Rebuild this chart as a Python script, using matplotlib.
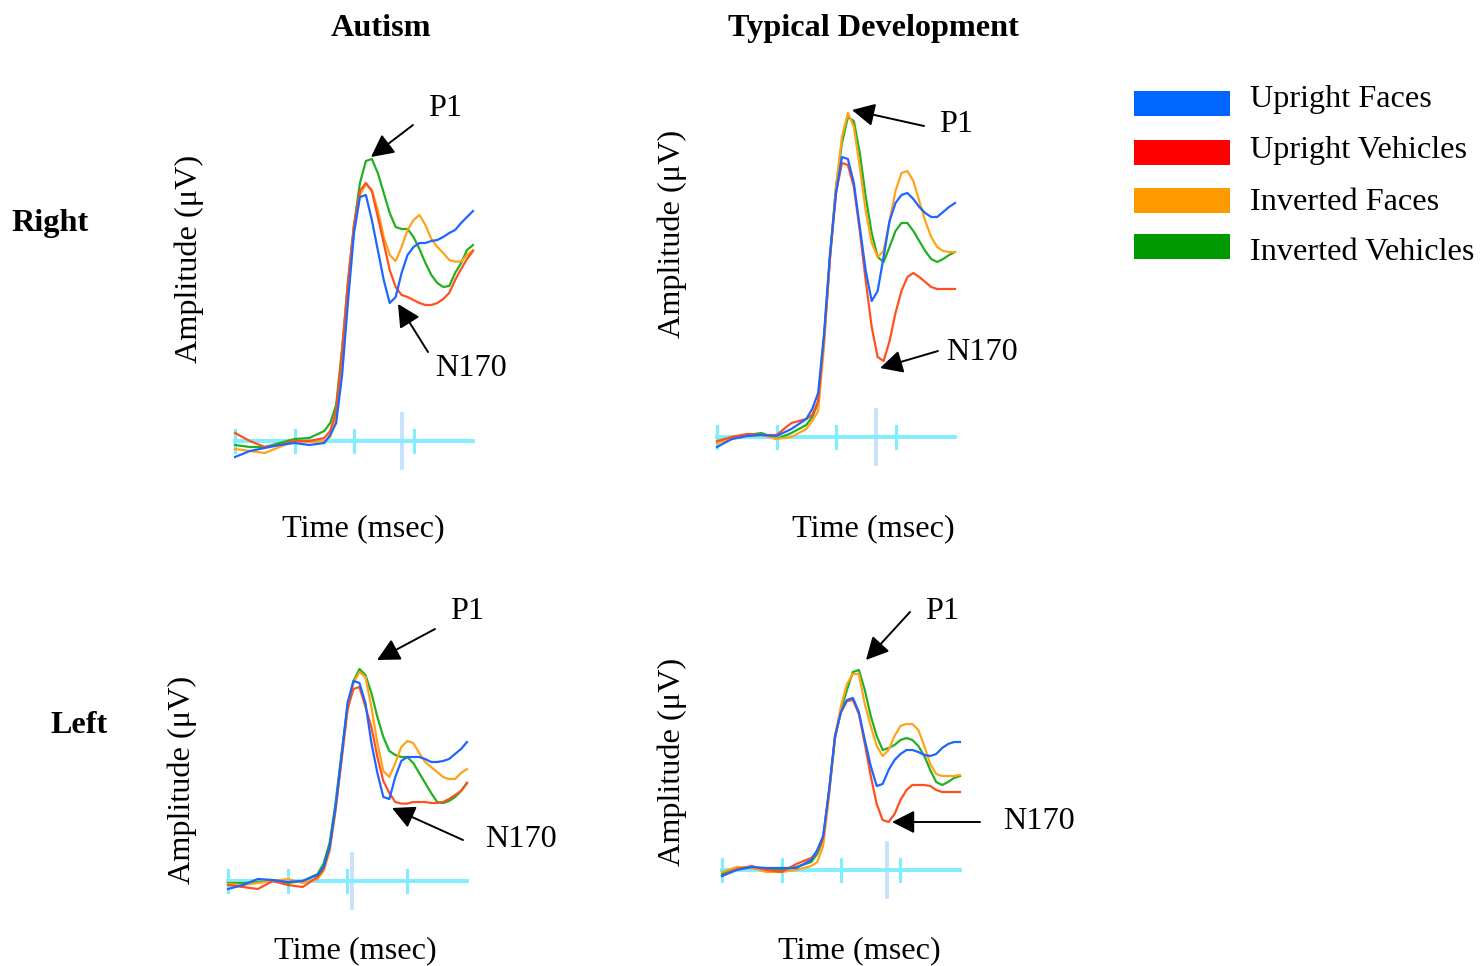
import matplotlib
matplotlib.use("Agg")
import matplotlib.pyplot as plt
from matplotlib.patches import FancyArrowPatch, Rectangle

W, H = 1481, 966
plt.rcParams['font.family'] = ['Liberation Serif', 'DejaVu Serif']

# ---------------- data ----------------
time_ms = [-100, -75, -50, -25, 0, 25, 50, 60, 70, 80, 90, 100, 110, 120, 130, 140,
           150, 160, 170, 180, 190, 200, 210, 220, 230, 240, 250, 260, 270, 280, 290, 300]
baseline_ticks = [-100, 0, 100, 200]
conditions = ["Upright Faces", "Upright Vehicles", "Inverted Faces", "Inverted Vehicles"]
groups = ["Autism", "Typical Development"]
hemispheres = ["Right", "Left"]

# Autism, right hemisphere (µV)
aut_right_upright_faces = [-0.8, -0.5, -0.35, -0.2, -0.1, -0.2, -0.1, 0.3, 0.9, 3.3, 7.0, 10.4, 12.2, 12.3, 11.05, 9.55,
                           8.05, 6.9, 7.2, 8.4, 9.3, 9.7, 9.9, 9.9, 10.0, 10.05, 10.2, 10.4, 10.55, 10.9, 11.2, 11.5]
aut_right_upright_vehicles = [0.4, 0.0, -0.3, -0.2, 0.0, 0.0, 0.15, 0.5, 1.5, 4.5, 8.0, 10.8, 12.5, 12.9, 12.5, 11.2,
                              9.9, 8.55, 7.7, 7.3, 7.2, 7.05, 6.9, 6.8, 6.8, 6.9, 7.1, 7.4, 8.05, 8.6, 9.1, 9.5]
aut_right_inverted_faces = [-0.4, -0.5, -0.6, -0.3, 0.0, -0.05, 0.0, 0.2, 1.2, 4.2, 7.8, 10.6, 12.3, 12.85, 12.55, 11.55,
                            10.2, 9.3, 9.0, 9.7, 10.55, 11.05, 11.3, 10.8, 10.1, 9.7, 9.4, 9.05, 8.97, 8.97, 9.3, 9.55]
aut_right_inverted_vehicles = [-0.2, -0.3, -0.3, -0.1, 0.1, 0.15, 0.5, 0.9, 1.8, 4.6, 8.0, 10.8, 12.9, 14.0, 14.1, 13.4,
                               12.4, 11.4, 10.7, 10.6, 10.6, 10.2, 9.6, 8.9, 8.3, 7.9, 7.7, 7.75, 8.4, 8.9, 9.55, 9.8]

# Typical development, right hemisphere (µV)
td_right_upright_faces = [-0.5, -0.1, 0.05, 0.1, 0.05, 0.4, 0.9, 1.4, 2.2, 5.2, 9.2, 12.2, 14.0, 13.9, 12.7, 10.5,
                          8.3, 6.8, 7.3, 9.0, 10.8, 11.7, 12.1, 12.2, 11.9, 11.5, 11.2, 11.0, 11.0, 11.25, 11.5, 11.7]
td_right_upright_vehicles = [-0.2, 0.0, 0.15, 0.1, 0.1, 0.7, 0.9, 1.1, 1.8, 5.0, 9.0, 12.2, 13.7, 13.6, 12.5, 10.3,
                             7.8, 5.5, 4.0, 3.8, 4.8, 6.2, 7.3, 8.0, 8.2, 8.0, 7.75, 7.5, 7.4, 7.4, 7.4, 7.4]
td_right_inverted_faces = [-0.3, -0.1, 0.05, 0.1, -0.1, 0.0, 0.4, 0.8, 1.3, 4.6, 9.0, 12.5, 15.0, 16.2, 15.5, 13.5,
                           11.3, 9.7, 9.0, 9.3, 10.8, 12.3, 13.2, 13.3, 12.8, 11.8, 10.8, 10.0, 9.5, 9.3, 9.25, 9.25]
td_right_inverted_vehicles = [-0.3, 0.0, 0.1, 0.2, -0.1, 0.2, 0.6, 1.0, 1.7, 4.9, 9.0, 12.5, 14.7, 16.0, 15.8, 14.2,
                              12.0, 10.2, 9.0, 8.75, 9.5, 10.3, 10.7, 10.7, 10.3, 9.8, 9.3, 8.9, 8.75, 8.9, 9.1, 9.25]

# Autism, left hemisphere (µV)
aut_left_upright_faces = [-0.4, -0.2, 0.1, 0.05, -0.05, 0.0, 0.3, 0.7, 1.7, 3.7, 6.2, 8.9, 10.0, 9.9, 8.9, 6.9,
                          5.4, 4.2, 4.1, 5.2, 6.0, 6.2, 6.2, 6.2, 6.1, 5.95, 5.95, 6.0, 6.1, 6.35, 6.6, 6.95]
aut_left_upright_vehicles = [-0.2, -0.3, -0.4, 0.0, -0.2, -0.3, 0.2, 0.6, 1.6, 3.6, 6.1, 8.6, 9.6, 9.7, 8.7, 7.7,
                             6.2, 5.0, 4.4, 3.95, 3.87, 3.87, 3.95, 3.95, 3.95, 3.9, 3.9, 3.95, 4.1, 4.3, 4.5, 4.9]
aut_left_inverted_faces = [-0.15, -0.2, -0.1, 0.0, 0.1, -0.1, 0.1, 0.5, 1.5, 3.5, 6.0, 8.5, 9.9, 10.45, 10.2, 8.7,
                           6.9, 5.5, 5.2, 5.9, 6.7, 7.0, 6.9, 6.4, 5.95, 5.7, 5.45, 5.2, 5.1, 5.1, 5.4, 5.6]
aut_left_inverted_vehicles = [-0.1, -0.1, -0.05, 0.0, -0.1, 0.0, 0.35, 0.87, 1.9, 3.9, 6.4, 8.7, 10.0, 10.6, 10.3, 9.4,
                              8.2, 7.2, 6.5, 6.3, 6.2, 6.2, 5.9, 5.4, 4.9, 4.4, 3.95, 3.9, 4.0, 4.2, 4.5, 4.9]

# Typical development, left hemisphere (µV)
td_left_upright_faces = [-0.3, 0.0, 0.15, 0.1, 0.1, 0.1, 0.5, 1.0, 1.7, 4.0, 6.7, 7.9, 8.5, 8.6, 7.9, 6.5,
                         5.2, 4.2, 4.3, 5.0, 5.5, 5.8, 6.0, 6.0, 5.9, 5.75, 5.7, 5.8, 6.1, 6.3, 6.4, 6.4]
td_left_upright_vehicles = [-0.3, 0.05, 0.2, 0.0, -0.1, 0.3, 0.6, 0.9, 1.6, 4.0, 6.7, 7.9, 8.45, 8.5, 7.8, 6.3,
                            4.7, 3.3, 2.5, 2.4, 2.8, 3.5, 4.0, 4.25, 4.25, 4.25, 4.2, 4.0, 3.9, 3.9, 3.9, 3.9]
td_left_inverted_faces = [-0.1, 0.15, 0.1, -0.1, -0.1, 0.0, 0.2, 0.4, 1.2, 3.7, 6.7, 8.2, 9.3, 9.8, 9.8, 8.3,
                          7.2, 6.2, 5.7, 6.0, 6.7, 7.2, 7.3, 7.3, 7.0, 6.2, 5.3, 4.8, 4.7, 4.7, 4.7, 4.75]
td_left_inverted_vehicles = [-0.2, 0.1, 0.1, 0.05, 0.0, 0.15, 0.4, 0.8, 1.5, 3.9, 6.6, 8.0, 9.0, 9.9, 10.0, 9.0,
                             7.7, 6.7, 6.0, 6.1, 6.25, 6.5, 6.6, 6.5, 6.2, 5.7, 5.0, 4.4, 4.25, 4.4, 4.6, 4.7]

# latency cursor (ms) shown in each panel
cursor_aut_right, cursor_td_right, cursor_aut_left, cursor_td_left = 180, 167, 108, 177

# ---------------- styling ----------------
line_colors = ['#1F66FF', '#FF5020', '#FFA31A', '#22B022']
legend_colors = ['#0066FF', '#FF0000', '#FF9900', '#009900']
baseline_color = '#80EEFF'
cursor_color = '#C6E2FF'
FS = 23.2
PX_PER_UV = 20.0

fig = plt.figure(figsize=(W / 100, H / 100), dpi=100)


def fx(x):
    return x / W


def fy(y):
    return 1 - y / H


def add_panel(px_left, px_right, base_px, series, cursor):
    s = (px_right - px_left) / 400.0
    t_lo, t_hi = -115, 315
    left_px = px_left + (t_lo + 100) * s
    right_px = px_left + (t_hi + 100) * s
    top_px, bot_px = base_px - 340, base_px + 35
    ax = fig.add_axes([fx(left_px), fy(bot_px), (right_px - left_px) / W, (bot_px - top_px) / H])
    ax.set_xlim(t_lo, t_hi)
    ax.set_ylim(-35 / PX_PER_UV, 340 / PX_PER_UV)
    ax.axis('off')
    # baseline and ticks
    ax.plot([time_ms[0], time_ms[-1]], [0, 0], color=baseline_color, lw=2.8, zorder=1)
    for tk in baseline_ticks:
        ax.plot([tk, tk], [-11 / PX_PER_UV, 11 / PX_PER_UV], color=baseline_color, lw=2.2, zorder=1)
    ax.plot([cursor, cursor], [-27 / PX_PER_UV, 27 / PX_PER_UV], color=cursor_color, lw=2.8, zorder=0.5)
    order = [3, 2, 1, 0]
    for i in order:
        ax.plot(time_ms, series[i], color=line_colors[i], lw=1.6, zorder=2 + (3 - i),
                solid_joinstyle='round')
    return ax


add_panel(235, 473, 441, [aut_right_upright_faces, aut_right_upright_vehicles,
                          aut_right_inverted_faces, aut_right_inverted_vehicles], cursor_aut_right)
add_panel(717, 955, 437, [td_right_upright_faces, td_right_upright_vehicles,
                          td_right_inverted_faces, td_right_inverted_vehicles], cursor_td_right)
add_panel(228, 467, 881, [aut_left_upright_faces, aut_left_upright_vehicles,
                          aut_left_inverted_faces, aut_left_inverted_vehicles], cursor_aut_left)
add_panel(722, 960, 870, [td_left_upright_faces, td_left_upright_vehicles,
                          td_left_inverted_faces, td_left_inverted_vehicles], cursor_td_left)

# titles and row labels (baseline positions)
fig.text(fx(381), fy(36), groups[0], ha='center', va='baseline', fontsize=FS, fontweight='bold')
fig.text(fx(873), fy(36), groups[1], ha='center', va='baseline', fontsize=FS, fontweight='bold')
fig.text(fx(50), fy(231), hemispheres[0], ha='center', va='baseline', fontsize=FS, fontweight='bold')
fig.text(fx(79), fy(733), hemispheres[1], ha='center', va='baseline', fontsize=FS, fontweight='bold')

# axis labels
for (x, y) in [(363, 536), (873, 536), (355, 958), (859, 958)]:
    fig.text(fx(x), fy(y), 'Time (msec)', ha='center', va='baseline', fontsize=FS)
for (x, y) in [(189, 259), (672, 234), (182, 780), (672, 762)]:
    fig.text(fx(x), fy(y), 'Amplitude (μV)', ha='center', va='center', fontsize=FS, rotation=90)

# component annotations: label, text baseline pos, arrow tail, arrow head
annots = [
    ('P1', (445, 116), (413, 125), (371, 157)),
    ('N170', (471, 376), (428, 352), (398, 304)),
    ('P1', (956, 132), (924, 126), (852, 110)),
    ('N170', (982, 360), (938, 351), (880, 368)),
    ('P1', (467, 619), (435, 629), (377, 660)),
    ('N170', (521, 847), (463, 840), (392, 808)),
    ('P1', (942, 619), (910, 612), (866, 660)),
    ('N170', (1039, 829), (980, 822), (892, 822)),
]
for label, tpos, tail, head in annots:
    fig.text(fx(tpos[0]), fy(tpos[1]), label, ha='center', va='baseline', fontsize=FS)
    fig.add_artist(FancyArrowPatch((fx(tail[0]), fy(tail[1])), (fx(head[0]), fy(head[1])),
                                   transform=fig.transFigure,
                                   arrowstyle='-|>,head_length=0.55,head_width=0.28',
                                   mutation_scale=25, color='black', lw=1.4,
                                   shrinkA=0, shrinkB=0))

# legend
legend_rows = [103, 152, 200, 247]
legend_text_baselines = [107, 158, 210, 260]
for lab, col, yc, yb in zip(conditions, legend_colors, legend_rows, legend_text_baselines):
    fig.add_artist(Rectangle((fx(1134), fy(yc + 12.5)), 96 / W, 25 / H,
                             transform=fig.transFigure, facecolor=col, edgecolor='none'))
    fig.text(fx(1250), fy(yb), lab, ha='left', va='baseline', fontsize=FS)

fig.savefig('out.png', dpi=100)
